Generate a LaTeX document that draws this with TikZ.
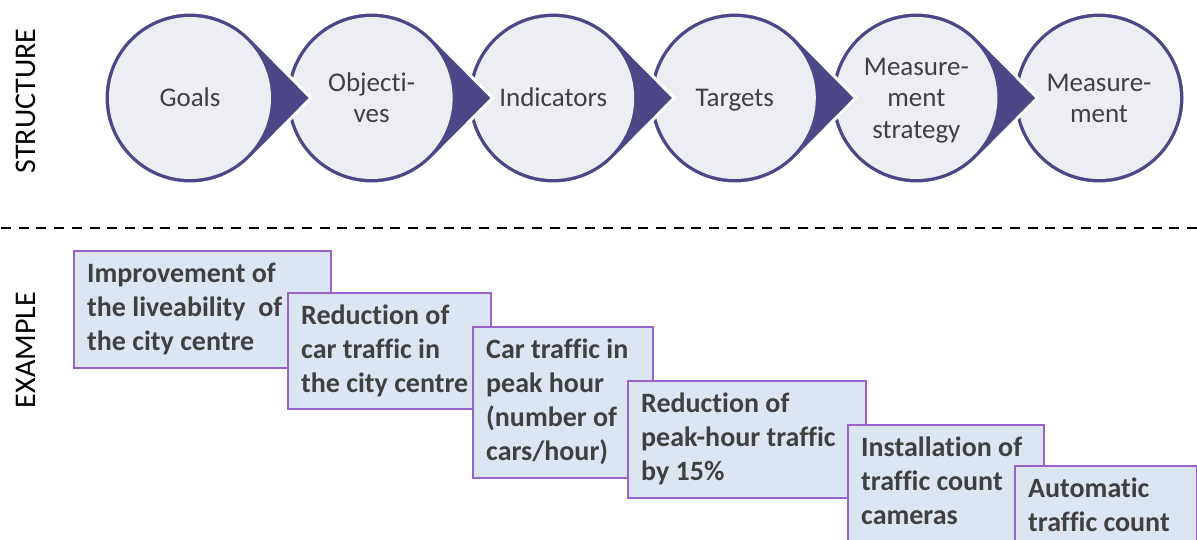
\documentclass[tikz,border=0pt]{standalone}
\usepackage{fontspec}
\setmainfont{Carlito}[Ligatures=NoCommon]
\usetikzlibrary{calc}

\definecolor{circfill}{HTML}{EDEDF4}
\definecolor{circdark}{HTML}{4C4787}
\definecolor{boxfill}{HTML}{DCE6F2}
\definecolor{boxedge}{HTML}{9A63C9}
\definecolor{inktext}{HTML}{404040}

\begin{document}
\begin{tikzpicture}[x=1pt,y=1pt,
  circtext/.style={text=inktext, align=center, inner sep=0pt,
    font=\fontsize{27}{31.5}\selectfont, yshift=-2.5pt},
  sidetext/.style={text=black, rotate=90, inner sep=0pt,
    font=\fontsize{30}{36}\selectfont},
  exbox/.style={draw=boxedge, fill=boxfill, line width=1.5pt,
    anchor=north west, inner sep=0pt},
  extext/.style={text=inktext, align=left, inner sep=0pt, anchor=north west,
    font=\fontsize{28}{34}\selectfont\bfseries},
  divider/.style={black, line width=2.8pt, dash pattern=on 10pt off 7.7pt}]

\clip (0,0) rectangle (1197,-539);
\fill[white] (0,0) rectangle (1197,-539);

% circle centres of the process chain
\coordinate (c1) at (190,-98);
\coordinate (c2) at (371.6,-98);
\coordinate (c3) at (553.2,-98);
\coordinate (c4) at (734.8,-98);
\coordinate (c5) at (916.4,-98);
\coordinate (c6) at (1099,-98);

% last circle has no pointer
\fill[circdark, draw=white, line width=3pt] (c6) circle[radius=86];
\fill[circfill] (c6) circle[radius=81];

% teardrop circles, drawn right to left so each pointer overlaps its successor
\foreach \i in {5,4,3,2,1}{
  \filldraw[fill=circdark, draw=white, line width=3pt]
    ([shift={(44:86)}]c\i) -- ([shift={(121,0)}]c\i)
    -- ([shift={(-44:86)}]c\i)
    arc[start angle=-44, end angle=-316, radius=86] -- cycle;
  \fill[circfill] (c\i) circle[radius=81];
}

% struts keep every line on the same baseline grid
\node[circtext] (n1) at (c1) {\strut Goals};
\node[circtext] (n2) at (c2) {\strut Objecti-\\\strut ves};
\node[circtext] (n3) at (c3) {\strut Indicators};
\node[circtext] (n4) at (c4) {\strut Targets};
\node[circtext] (n5) at (c5) {\strut Measure-\\\strut ment\\\strut strategy};
\node[circtext] (n6) at (c6) {\strut Measure-\\\strut ment};

% side labels
\node[sidetext] (lstruct) at (26,-101) {STRUCTURE};
\node[sidetext] (lexample) at (26,-350) {EXAMPLE};

% dividing line
\coordinate (dl) at (1,-228);
\coordinate (dr) at (1197,-228);
\draw[divider] (dl) -- (dr);

% example boxes, each laid over the previous one
\node[exbox, minimum width=257, minimum height=117] (b1) at (73,-250) {};
\node[extext] (t1) at ([shift={(14,-8.2)}]b1.north west)
  {\strut Improvement of\\the liveability~ of\\the city centre};

\node[exbox, minimum width=203, minimum height=116] (b2) at (287,-292) {};
\node[extext] (t2) at ([shift={(14,-8.2)}]b2.north west)
  {\strut Reduction of\\car traffic in\\the city centre};

\node[exbox, minimum width=180, minimum height=151] (b3) at (472,-326) {};
\node[extext] (t3) at ([shift={(14,-8.2)}]b3.north west)
  {\strut Car traffic in\\peak hour\\(number of\\cars/hour)};

\node[exbox, minimum width=238, minimum height=117] (b4) at (627,-380) {};
\node[extext] (t4) at ([shift={(14,-8.2)}]b4.north west)
  {\strut Reduction of\\peak-hour traffic\\by 15\%};

\node[exbox, minimum width=196, minimum height=140] (b5) at (847,-424) {};
\node[extext] (t5) at ([shift={(14,-8.2)}]b5.north west)
  {\strut Installation of\\traffic count\\cameras};

\node[exbox, minimum width=182, minimum height=110] (b6) at (1014,-465) {};
\node[extext] (t6) at ([shift={(14,-8.2)}]b6.north west)
  {\strut Automatic\\traffic count};

\end{tikzpicture}
\end{document}
